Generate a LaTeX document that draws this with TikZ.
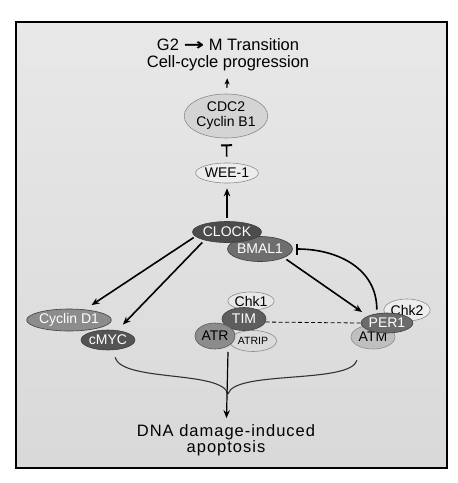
\documentclass[tikz,border=0pt]{standalone}
\usepackage{fontspec}
\setmainfont{Liberation Sans}
\newfontfamily\arrowfont{DejaVu Sans}
\usetikzlibrary{positioning,shapes.geometric,arrows.meta}

\begin{document}
\begin{tikzpicture}[x=1pt,y=-1pt,
    prot/.style={ellipse,draw=black!45,line width=0.6pt,inner sep=0pt,font=\fontsize{14}{15}\selectfont},
    darkprot/.style={prot,draw=black!75,text=white},
    act/.style={line width=1.6pt,-{Stealth[length=8pt,width=6.5pt]}},
    inh/.style={line width=1.6pt,-{Bar[width=11pt,line width=2pt]}},
    link/.style={line width=1.1pt,draw=black!80},
    label/.style={align=center,inner sep=0pt,font=\fontsize{16.5}{17}\selectfont}]
  \useasboundingbox (0,0) rectangle (458,483);
  \draw[line width=2pt,top color=black!9,bottom color=black!15] (16,22) rectangle (447,468);

  \node[label] (g2m) at (228,55) {G2 {\arrowfont\bfseries\scalebox{1.5}[1]{→}} M Transition\\Cell-cycle progression};
  \node[prot,fill=black!17,minimum width=80pt,minimum height=44pt,align=center] (cdc) at (226,116) {CDC2\\Cyclin B1};
  \node[prot,fill=black!7,minimum width=59pt,minimum height=20pt] (wee) at (227,173) {WEE-1};
  \node[darkprot,fill=black!57,minimum width=63pt,minimum height=25pt] (bmal) at (260,249) {BMAL1};
  \node[darkprot,fill=black!70,minimum width=69pt,minimum height=21pt] (clock) at (227,232) {CLOCK};

  \node[darkprot,fill=black!45,minimum width=76pt,minimum height=22pt] (cycd) at (69,320) {Cyclin D1};
  \node[darkprot,fill=black!67,minimum width=51pt,minimum height=20pt] (cmyc) at (108,340) {cMYC};

  \node[prot,fill=black!9,minimum width=43pt,minimum height=18pt] (chk1) at (251,301) {Chk1};
  \node[prot,fill=black!14,minimum width=47pt,minimum height=21pt,font=\fontsize{10.5}{12}\selectfont] (atrip) at (253,341) {ATRIP};
  \node[darkprot,fill=black!63,minimum width=44pt,minimum height=23pt] (tim) at (244,319) {TIM};
  \node[prot,draw=black!65,fill=black!45,minimum width=40pt,minimum height=26pt] (atr) at (215,336) {ATR};

  \node[prot,fill=black!7,minimum width=42pt,minimum height=22pt] (chk2) at (407,310) {Chk2};
  \node[prot,fill=black!25,minimum width=44pt,minimum height=24pt] (atm) at (373,337) {ATM};
  \node[darkprot,fill=black!58,minimum width=50pt,minimum height=20pt] (per) at (387,323) {PER1};

  \node[label,font=\fontsize{16.5}{16}\selectfont\addfontfeatures{LetterSpace=6}] (apop) at (226,440) {DNA damage-induced\\apoptosis};
  \coordinate (join) at (228,394);
  \coordinate (clus) at (228,352);

  \draw[line width=1.4pt,-{Stealth[length=6pt,width=5pt]},shorten <=6pt,shorten >=7pt] (cdc) -- (g2m);
  \draw[inh,shorten <=6pt,shorten >=6pt] (wee) -- (cdc);
  \draw[act,shorten <=3pt,shorten >=5pt] (clock) -- (wee);
  \draw[act,shorten <=2pt,shorten >=8pt] (clock.188) -- (cycd);
  \draw[act,shorten <=3pt,shorten >=8pt] (clock.200) -- (cmyc);
  \draw[act,shorten <=3pt,shorten >=7pt] (bmal.-20) -- (per.160);
  \draw[inh,shorten <=4pt,shorten >=3pt] (per.137) .. controls +(0,-45) and +(45,0) .. (bmal.east);
  \draw[line width=0.8pt,dash pattern=on 4pt off 2.5pt] (tim.-8) -- (per.west);

  \draw[link] ([xshift=7pt,yshift=-7pt]cmyc.south) .. controls +(7,25) and +(-6,-24) .. (join);
  \draw[link] ([xshift=-16pt,yshift=-11pt]atm.south) .. controls +(-7,24) and +(6,-24) .. (join);
  \draw[act,line width=1.2pt,shorten >=6pt] (clus) -- (apop);
\end{tikzpicture}
\end{document}
